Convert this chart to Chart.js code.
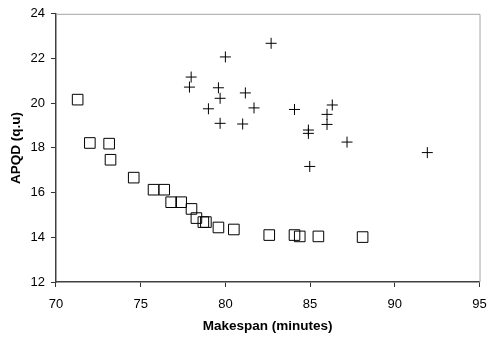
<!DOCTYPE html>
<html>
<head>
<meta charset="utf-8">
<script src="https://cdn.jsdelivr.net/npm/chart.js@4"></script>
<style>
html,body{margin:0;padding:0;background:#fff;}
canvas{display:block;}
</style>
</head>
<body>
<canvas id="c" width="488" height="338"></canvas>
<script>
const squareMakespan = [71.28, 72.0, 73.14, 73.22, 74.59, 75.76, 76.39, 76.8, 77.39, 78.0, 78.29, 78.7, 78.85, 79.59, 80.5, 82.59, 84.08, 84.39, 85.49, 88.1];
const squareAPQD     = [20.16, 18.22, 18.19, 17.47, 16.67, 16.13, 16.13, 15.57, 15.57, 15.27, 14.86, 14.68, 14.68, 14.44, 14.35, 14.1, 14.1, 14.04, 14.04, 14.01];
const crossMakespan = [77.98, 77.88, 80.0, 79.59, 79.69, 79.0, 79.69, 81.18, 81.02, 82.7, 81.69, 84.08, 86.31, 86.0, 86.0, 84.9, 84.9, 87.18, 91.92, 84.98];
const crossAPQD     = [21.17, 20.72, 22.07, 20.69, 20.22, 19.75, 19.1, 20.46, 19.07, 22.68, 19.79, 19.72, 19.92, 19.5, 19.05, 18.8, 18.65, 18.26, 17.79, 17.17];
const xTitle = 'Makespan (minutes)';
const yTitle = 'APQD (q.u)';

const toPts = (xs, ys) => xs.map((x, i) => ({x: x, y: ys[i]}));

const frame = {
  id: 'frame',
  afterDraw(chart) {
    const a = chart.chartArea, ctx = chart.ctx;
    ctx.save();
    ctx.strokeStyle = '#a6a6a6';
    ctx.lineWidth = 1;
    ctx.beginPath();
    ctx.moveTo(a.left, a.top + 0.5);
    ctx.lineTo(a.right + 0.5, a.top + 0.5);
    ctx.lineTo(a.right + 0.5, a.bottom);
    ctx.stroke();
    ctx.restore();
  }
};

const tickFont = {family: 'Liberation Sans, Arial', size: 13};
const titleFont = {family: 'Liberation Sans, Arial', size: 13.5, weight: 'bold'};

new Chart(document.getElementById('c'), {
  type: 'scatter',
  data: {
    datasets: [
      {
        data: toPts(squareMakespan, squareAPQD),
        pointStyle: 'rect',
        radius: 7.5,
        borderColor: '#000',
        borderWidth: 1,
        backgroundColor: 'rgba(0,0,0,0)'
      },
      {
        data: toPts(crossMakespan, crossAPQD),
        pointStyle: 'cross',
        radius: 5.5,
        borderColor: '#000',
        borderWidth: 1,
        backgroundColor: '#000'
      }
    ]
  },
  options: {
    responsive: false,
    animation: false,
    events: [],
    layout: {padding: {top: 4.5, right: 0, left: 8, bottom: 3.9}},
    plugins: {legend: {display: false}, tooltip: {enabled: false}},
    scales: {
      x: {
        type: 'linear', min: 70, max: 95,
        afterFit: (s) => { s.paddingRight = 7; },
        ticks: {stepSize: 5, color: '#000', font: tickFont, padding: 10},
        grid: {drawOnChartArea: false, color: '#333', tickLength: 5},
        border: {color: '#404040', width: 1.5},
        title: {display: true, text: xTitle, color: '#000', font: titleFont, padding: {top: -4.7, bottom: 0}}
      },
      y: {
        type: 'linear', min: 12, max: 24,
        ticks: {stepSize: 2, color: '#000', font: tickFont, padding: 6},
        grid: {drawOnChartArea: false, color: '#333', tickLength: 5},
        border: {color: '#404040', width: 1.5},
        title: {display: true, text: yTitle, color: '#000', font: titleFont, padding: {top: 0.6, bottom: -0.3}}
      }
    }
  },
  plugins: [frame]
});
</script>
</body>
</html>
